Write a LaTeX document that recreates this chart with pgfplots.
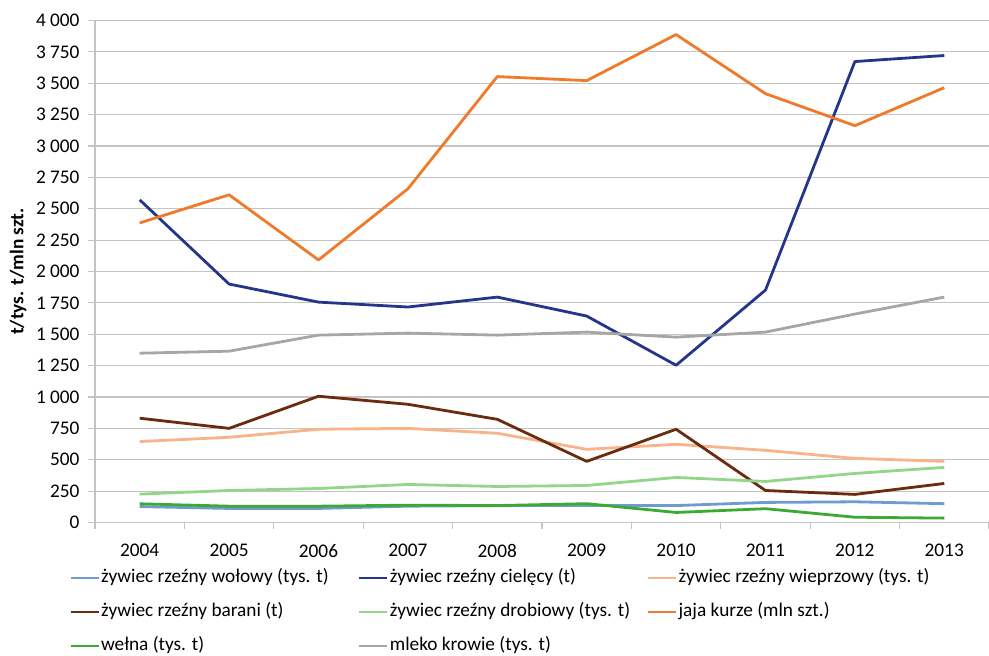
\documentclass[border=0pt]{standalone}
\usepackage{pgfplots}
\pgfplotsset{compat=1.18}
\usepackage{fontspec}
\setmainfont{Carlito}
\definecolor{cWol}{HTML}{6F9BD1}
\definecolor{cCiel}{HTML}{26358C}
\definecolor{cWiep}{HTML}{F8B38A}
\definecolor{cBar}{HTML}{6B2B0E}
\definecolor{cDrob}{HTML}{93D68A}
\definecolor{cJaja}{HTML}{EF7A2B}
\definecolor{cWel}{HTML}{3BAA35}
\definecolor{cMle}{HTML}{A6A6A6}
\definecolor{cGrid}{HTML}{C4C4C4}
\begin{document}
\fontsize{19.3pt}{23pt}\selectfont
\begin{tikzpicture}
\path[use as bounding box] (-95pt,-133.5pt) rectangle (894pt,522.5pt);
\begin{axis}[
  at={(0,0)}, anchor=south west,
  scale only axis,
  width=894pt, height=502pt,
  xmin=2003.5, xmax=2013.5,
  ymin=0, ymax=4000,
  xtick={2004,...,2013},
  minor xtick={2003.5,2004.5,...,2013.5},
  ytick={0,250,...,4000},
  /pgf/number format/assume math mode=true,
  xticklabel style={/pgf/number format/1000 sep={}, yshift=-8pt},
  yticklabel style={/pgf/number format/1000 sep={\hspace{0.22em}}, xshift=-2pt},
  axis x line*=bottom, axis y line*=left,
  axis line style={cGrid, line width=1.2pt},
  tick align=outside,
  major tick length=7pt, minor tick length=6pt,
  x tick style={draw=none},
  minor x tick style={draw=cGrid, line width=1.2pt},
  y tick style={draw=cGrid, line width=1.2pt},
  ymajorgrids,
  major grid style={cGrid, line width=1.2pt},
  ylabel={\bfseries t/tys. t/mln szt.},
  y label style={at={(axis description cs:-0.086,0.5)}, anchor=center},
  every axis plot/.append style={line width=2.8pt, line join=round},
  legend columns=3,
  legend cell align=left,
  legend style={draw=none, fill=none,
    at={(axis description cs:-0.0324,-0.0856)}, anchor=north west,
    nodes={inner sep=1pt, text height=14pt, text depth=4.5pt},
    row sep=13.5pt,
    /tikz/every even column/.append style={column sep=0pt}},
  legend image code/.code={\draw[#1, line width=2.8pt] (0pt,0pt) -- (28pt,0pt);},
]
\addplot[cWol] coordinates {(2004,127)(2005,112)(2006,112)(2007,130)(2008,135)(2009,135)(2010,135)(2011,160)(2012,165)(2013,150)};
\addlegendentry{\makebox[256pt][l]{żywiec rzeźny wołowy (tys. t)}}
\addplot[cCiel] coordinates {(2004,2571)(2005,1900)(2006,1756)(2007,1717)(2008,1796)(2009,1645)(2010,1253)(2011,1852)(2012,3673)(2013,3721)};
\addlegendentry{\makebox[256pt][l]{żywiec rzeźny cielęcy (t)}}
\addplot[cWiep] coordinates {(2004,645)(2005,679)(2006,743)(2007,750)(2008,711)(2009,583)(2010,623)(2011,575)(2012,511)(2013,487)};
\addlegendentry{żywiec rzeźny wieprzowy (tys. t)}
\addplot[cBar] coordinates {(2004,831)(2005,750)(2006,1006)(2007,942)(2008,822)(2009,487)(2010,743)(2011,255)(2012,224)(2013,311)};
\addlegendentry{\makebox[256pt][l]{żywiec rzeźny barani (t)}}
\addplot[cDrob] coordinates {(2004,226)(2005,255)(2006,271)(2007,303)(2008,287)(2009,295)(2010,359)(2011,327)(2012,391)(2013,439)};
\addlegendentry{\makebox[256pt][l]{żywiec rzeźny drobiowy (tys. t)}}
\addplot[cJaja] coordinates {(2004,2387)(2005,2611)(2006,2092)(2007,2659)(2008,3553)(2009,3521)(2010,3888)(2011,3417)(2012,3162)(2013,3465)};
\addlegendentry{jaja kurze (mln szt.)}
\addplot[cWel] coordinates {(2004,149)(2005,130)(2006,130)(2007,138)(2008,135)(2009,150)(2010,80)(2011,110)(2012,42)(2013,35)};
\addlegendentry{\makebox[256pt][l]{wełna (tys. t)}}
\addplot[cMle] coordinates {(2004,1349)(2005,1365)(2006,1493)(2007,1509)(2008,1493)(2009,1517)(2010,1477)(2011,1517)(2012,1661)(2013,1796)};
\addlegendentry{\makebox[256pt][l]{mleko krowie (tys. t)}}
\end{axis}
\end{tikzpicture}
\end{document}
